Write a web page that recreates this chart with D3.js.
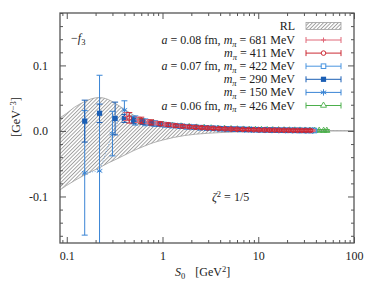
<!DOCTYPE html>
<html><head><meta charset="utf-8">
<script src="https://cdn.jsdelivr.net/npm/d3@7"></script>
<style>
body{margin:0;background:#fff}
svg{display:block}
text{font-family:"Liberation Serif","DejaVu Serif",serif;fill:#222}
</style>
</head><body>
<svg id="c" width="374" height="282"></svg>
<script>
// ---------- DATA ----------
const xTickLabels = [0.1, 1, 10, 100];
const yTickLabels = [-0.1, 0.0, 0.1];

// RL band
const rlS0    = [0.085, 0.1, 0.12, 0.15, 0.18, 0.22, 0.27, 0.33, 0.4, 0.5, 0.65, 0.8, 1.0, 1.3, 1.7, 2.2, 3, 4, 6, 10, 20, 40, 100];
const rlUpper = [0.020, 0.027, 0.036, 0.044, 0.049, 0.051, 0.048, 0.041, 0.033, 0.024, 0.016, 0.012, 0.009, 0.007, 0.0055, 0.0045, 0.0035, 0.0028, 0.002, 0.0014, 0.0009, 0.0006, 0.0003];
const rlLower = [-0.090, -0.083, -0.076, -0.068, -0.062, -0.056, -0.049, -0.043, -0.037, -0.030, -0.023, -0.018, -0.014, -0.010, -0.007, -0.005, -0.0035, -0.0025, -0.0015, -0.0008, -0.0003, -0.0001, 0.0];

// a=0.08 fm, m_pi=681 MeV
const s0_681  = [0.42, 0.55, 0.7, 0.87, 1.06, 1.28, 1.53, 1.8, 2.1, 2.45, 2.85, 3.3, 3.8, 4.4, 5.1, 5.9, 6.8, 7.8, 8.9, 10.1, 11.4, 12.9, 14.5, 16.3, 18.3, 20.5, 22.9, 25.5, 28.3, 31.3, 34.5, 37.0];
const val_681 = [0.022, 0.017, 0.014, 0.012, 0.010, 0.0085, 0.0074, 0.0065, 0.0058, 0.0052, 0.0046, 0.0041, 0.0037, 0.0033, 0.0029, 0.0026, 0.0023, 0.0021, 0.0019, 0.0017, 0.0016, 0.0014, 0.0013, 0.0012, 0.0011, 0.0010, 0.0009, 0.00085, 0.0008, 0.00072, 0.00067, 0.00063];
const err_681 = [0.006, 0.004, 0.003, 0.0026, 0.0024, 0.0022, 0.002, 0.002, 0.0019, 0.0018, 0.0018, 0.0017, 0.0017, 0.0016, 0.0016, 0.0016, 0.0015, 0.0015, 0.0015, 0.0015, 0.0015, 0.0015, 0.0015, 0.0015, 0.0015, 0.0015, 0.0015, 0.0015, 0.0015, 0.0015, 0.0015, 0.0015];

// m_pi=411 MeV
const s0_411  = [0.45, 0.6, 0.76, 0.95, 1.15, 1.38, 1.63, 1.92, 2.23, 2.58, 2.97, 3.4, 3.9, 4.5, 5.2, 6.0, 6.9, 7.9, 9.0, 10.2, 11.6, 13.1, 14.8, 16.6, 18.6, 20.8, 23.2, 25.8, 28.6, 31.6, 34.8];
const val_411 = [0.020, 0.016, 0.013, 0.011, 0.0095, 0.008, 0.0071, 0.0063, 0.0056, 0.005, 0.0045, 0.004, 0.0036, 0.0032, 0.0029, 0.0026, 0.0023, 0.0021, 0.0019, 0.0017, 0.0015, 0.0014, 0.0013, 0.0012, 0.0011, 0.001, 0.0009, 0.00085, 0.0008, 0.00072, 0.00067];
const err_411 = [0.008, 0.005, 0.004, 0.003, 0.0026, 0.0024, 0.0022, 0.002, 0.002, 0.0019, 0.0018, 0.0018, 0.0017, 0.0017, 0.0016, 0.0016, 0.0016, 0.0016, 0.0016, 0.0016, 0.0016, 0.0016, 0.0016, 0.0016, 0.0016, 0.0016, 0.0016, 0.0016, 0.0016, 0.0016, 0.0016];

// a=0.07 fm, m_pi=422 MeV
const s0_422  = [0.5, 0.66, 0.84, 1.04, 1.27, 1.53, 1.82, 2.14, 2.5, 2.9, 3.35, 3.85, 4.4, 5.05, 5.8, 6.6, 7.5, 8.5, 9.6, 10.8, 12.2, 13.7, 15.4, 17.2, 19.2, 21.4, 23.8, 26.4, 29.2, 32.2, 35.4, 38.5];
const val_422 = [0.017, 0.014, 0.012, 0.0098, 0.0085, 0.0074, 0.0065, 0.0058, 0.0051, 0.0046, 0.0041, 0.0037, 0.0033, 0.003, 0.0027, 0.0024, 0.0022, 0.002, 0.0018, 0.0016, 0.0015, 0.0013, 0.0012, 0.0011, 0.001, 0.00095, 0.00088, 0.00082, 0.00076, 0.0007, 0.00066, 0.00062];
const err_422 = [0.005, 0.004, 0.003, 0.0026, 0.0024, 0.0022, 0.002, 0.002, 0.0019, 0.0018, 0.0018, 0.0017, 0.0017, 0.0016, 0.0016, 0.0016, 0.0016, 0.0016, 0.0016, 0.0016, 0.0016, 0.0016, 0.0016, 0.0016, 0.0016, 0.0016, 0.0016, 0.0016, 0.0016, 0.0016, 0.0016, 0.0016];

// m_pi=290 MeV
const s0_290  = [0.154, 0.22, 0.32, 0.4, 0.5, 0.62, 0.76, 0.92, 1.1, 1.3, 1.55, 1.83, 2.15, 2.5, 2.9, 3.4, 4.0, 4.7, 5.5, 6.4, 7.5, 8.7, 10.1, 11.7, 13.5, 15.6, 18.0, 20.7, 23.8, 27.3, 31.2, 35.6];
const val_290 = [0.015, 0.027, 0.019, 0.019, 0.016, 0.014, 0.012, 0.0105, 0.0093, 0.0082, 0.0072, 0.0064, 0.0057, 0.005, 0.0045, 0.004, 0.0035, 0.0031, 0.0028, 0.0025, 0.0022, 0.002, 0.0018, 0.0016, 0.0014, 0.0013, 0.0011, 0.001, 0.0009, 0.0008, 0.00075, 0.0007];
const err_290 = [0.032, 0.014, 0.025, 0.006, 0.005, 0.004, 0.003, 0.0026, 0.0024, 0.0022, 0.002, 0.002, 0.0019, 0.0018, 0.0018, 0.0017, 0.0017, 0.0016, 0.0016, 0.0016, 0.0016, 0.0016, 0.0016, 0.0016, 0.0016, 0.0016, 0.0016, 0.0016, 0.0016, 0.0016, 0.0016, 0.0016];

// m_pi=150 MeV
const s0_150  = [0.154, 0.22, 0.30, 0.4, 0.52, 0.66, 0.82, 1.0, 1.2, 1.43, 1.7, 2.0, 2.35, 2.75, 3.2, 3.75, 4.4, 5.2, 6.1, 7.2, 8.5, 10.0, 11.8, 13.9, 16.4, 19.3, 22.7, 26.7, 31.4, 37.0];
const val_150 = [-0.064, -0.061, -0.004, 0.032, 0.016, 0.013, 0.011, 0.0097, 0.0086, 0.0076, 0.0067, 0.006, 0.0053, 0.0047, 0.0042, 0.0037, 0.0033, 0.0029, 0.0026, 0.0023, 0.002, 0.0018, 0.0016, 0.0014, 0.0012, 0.0011, 0.001, 0.0009, 0.0008, 0.0007];
const err_150 = [0.095, 0.146, 0.034, 0.014, 0.007, 0.005, 0.004, 0.003, 0.0028, 0.0025, 0.0023, 0.0021, 0.002, 0.0019, 0.0018, 0.0018, 0.0017, 0.0017, 0.0017, 0.0017, 0.0017, 0.0017, 0.0017, 0.0017, 0.0017, 0.0017, 0.0017, 0.0017, 0.0017, 0.0017];

// a=0.06 fm, m_pi=426 MeV
const s0_426  = [0.6, 0.8, 1.02, 1.27, 1.56, 1.9, 2.28, 2.72, 3.22, 3.8, 4.45, 5.2, 6.05, 7.0, 8.1, 9.35, 10.8, 12.4, 14.2, 16.3, 18.6, 21.2, 24.1, 27.3, 30.8, 34.6, 38.8, 43.3, 48.2, 52.0];
const val_426 = [0.015, 0.012, 0.0098, 0.0083, 0.0071, 0.0062, 0.0054, 0.0048, 0.0042, 0.0037, 0.0033, 0.0029, 0.0026, 0.0023, 0.0021, 0.0019, 0.0017, 0.0015, 0.0013, 0.0012, 0.0011, 0.001, 0.0009, 0.0008, 0.00072, 0.00066, 0.0006, 0.00055, 0.0005, 0.00046];
const err_426 = [0.004, 0.003, 0.0026, 0.0024, 0.0022, 0.002, 0.002, 0.0019, 0.0018, 0.0018, 0.0017, 0.0017, 0.0016, 0.0016, 0.0016, 0.0016, 0.0016, 0.0016, 0.0016, 0.0016, 0.0016, 0.0016, 0.0016, 0.0016, 0.0016, 0.0016, 0.0016, 0.0016, 0.0016, 0.0016];

// ---------- LAYOUT ----------
const L = 60, R = 354, T = 13, B = 243;
const svg = d3.select("#c");
const x = d3.scaleLog().domain([0.085, 100]).range([L, R]);
const y = d3.scaleLinear().domain([-0.171, 0.18]).range([B, T]);

const defs = svg.append("defs");
defs.append("clipPath").attr("id", "clip").append("rect")
  .attr("x", L).attr("y", T).attr("width", R - L).attr("height", B - T);
const pat = defs.append("pattern").attr("id", "hatch")
  .attr("patternUnits", "userSpaceOnUse").attr("width", 2.6).attr("height", 2.6)
  .attr("patternTransform", "rotate(45)");
pat.append("line").attr("x1", 0.5).attr("y1", 0).attr("x2", 0.5).attr("y2", 2.6)
  .attr("stroke", "#8c8c8c").attr("stroke-width", 0.8);

const plot = svg.append("g").attr("clip-path", "url(#clip)");

// RL band
const band = rlS0.map((s, i) => ({s, lo: rlLower[i], hi: rlUpper[i]}));
plot.append("path").datum(band)
  .attr("d", d3.area().x(d => x(d.s)).y0(d => y(d.lo)).y1(d => y(d.hi)).curve(d3.curveMonotoneX))
  .attr("fill", "url(#hatch)").attr("stroke", "none");
plot.append("path").datum(band)
  .attr("d", d3.line().x(d => x(d.s)).y(d => y(d.hi)).curve(d3.curveMonotoneX))
  .attr("fill", "none").attr("stroke", "#a0a0a0").attr("stroke-width", 0.8);
plot.append("path").datum(band)
  .attr("d", d3.line().x(d => x(d.s)).y(d => y(d.lo)).curve(d3.curveMonotoneX))
  .attr("fill", "none").attr("stroke", "#a0a0a0").attr("stroke-width", 0.8);

// series definitions
const series = [
  {key: "426", s0: s0_426, v: val_426, e: err_426, color: "#4caf4c", marker: "tri"},
  {key: "150", s0: s0_150, v: val_150, e: err_150, color: "#3a85d5", marker: "star", line: true},
  {key: "422", s0: s0_422, v: val_422, e: err_422, color: "#4a95e0", marker: "osq"},
  {key: "290", s0: s0_290, v: val_290, e: err_290, color: "#1b5fb5", marker: "fsq"},
  {key: "681", s0: s0_681, v: val_681, e: err_681, color: "#e06878", marker: "plus"},
  {key: "411", s0: s0_411, v: val_411, e: err_411, color: "#cc2a35", marker: "circ"}
];

function drawMarker(g, type, color) {
  if (type === "plus") {
    g.append("path").attr("d", "M-2.5,0H2.5M0,-2.5V2.5").attr("stroke", color).attr("stroke-width", 1).attr("fill", "none");
  } else if (type === "circ") {
    g.append("circle").attr("r", 2.3).attr("fill", "none").attr("stroke", color).attr("stroke-width", 1);
  } else if (type === "osq") {
    g.append("rect").attr("x", -2.3).attr("y", -2.3).attr("width", 4.6).attr("height", 4.6).attr("fill", "none").attr("stroke", color).attr("stroke-width", 1);
  } else if (type === "fsq") {
    g.append("rect").attr("x", -2.6).attr("y", -2.6).attr("width", 5.2).attr("height", 5.2).attr("fill", color);
  } else if (type === "star") {
    g.append("path").attr("d", d3.symbol(d3.symbolAsterisk, 28)()).attr("stroke", color).attr("stroke-width", 1).attr("fill", "none");
  } else if (type === "tri") {
    g.append("path").attr("d", d3.symbol(d3.symbolTriangle, 16)()).attr("stroke", color).attr("stroke-width", 0.9).attr("fill", "none");
  }
}

series.forEach(sr => {
  const pts = sr.s0.map((s, i) => ({s, v: sr.v[i], e: sr.e[i]}));
  const g = plot.append("g");
  if (sr.line) {
    g.append("path").datum(pts)
      .attr("d", d3.line().x(d => x(d.s)).y(d => y(d.v)))
      .attr("fill", "none").attr("stroke", sr.color).attr("stroke-width", 0.8)
      .attr("stroke-dasharray", "1,1.5").attr("opacity", 0.8);
  }
  const pg = g.selectAll("g.pt").data(pts).join("g").attr("class", "pt")
    .attr("transform", d => `translate(${x(d.s)},${y(d.v)})`);
  pg.append("line").attr("x1", 0).attr("x2", 0)
    .attr("y1", d => y(d.v - d.e) - y(d.v)).attr("y2", d => y(d.v + d.e) - y(d.v))
    .attr("stroke", sr.color).attr("stroke-width", 1);
  pg.append("line").attr("x1", -3).attr("x2", 3)
    .attr("y1", d => y(d.v - d.e) - y(d.v)).attr("y2", d => y(d.v - d.e) - y(d.v))
    .attr("stroke", sr.color).attr("stroke-width", 1);
  pg.append("line").attr("x1", -3).attr("x2", 3)
    .attr("y1", d => y(d.v + d.e) - y(d.v)).attr("y2", d => y(d.v + d.e) - y(d.v))
    .attr("stroke", sr.color).attr("stroke-width", 1);
  pg.each(function() { drawMarker(d3.select(this), sr.marker, sr.color); });
});

// ---------- AXES ----------
const axisColor = "#555";
const xMinor = x.ticks().filter(t => !xTickLabels.includes(t));
const yMinor = d3.range(-16, 19, 2).map(k => k / 100).filter(t => !yTickLabels.some(m => Math.abs(m - t) < 1e-9));

function styleAxis(g) {
  g.select(".domain").remove();
  g.selectAll("line").attr("stroke", axisColor).attr("stroke-width", 1);
  g.selectAll("text").style("font-family", '"Liberation Serif","DejaVu Serif",serif').style("font-size", "12px").attr("fill", "#222");
}
// bottom
svg.append("g").attr("transform", `translate(0,${B})`)
  .call(d3.axisBottom(x).tickValues(xTickLabels).tickSize(-6).tickPadding(8).tickFormat(d => String(d))).call(styleAxis);
svg.append("g").attr("transform", `translate(0,${B})`)
  .call(d3.axisBottom(x).tickValues(xMinor).tickSize(-3).tickFormat("")).call(styleAxis);
// top
svg.append("g").attr("transform", `translate(0,${T})`)
  .call(d3.axisTop(x).tickValues(xTickLabels).tickSize(-6).tickFormat("")).call(styleAxis);
svg.append("g").attr("transform", `translate(0,${T})`)
  .call(d3.axisTop(x).tickValues(xMinor).tickSize(-3).tickFormat("")).call(styleAxis);
// left
svg.append("g").attr("transform", `translate(${L},0)`)
  .call(d3.axisLeft(y).tickValues(yTickLabels).tickSize(-6).tickPadding(12).tickFormat(d => d.toFixed(1))).call(styleAxis);
svg.append("g").attr("transform", `translate(${L},0)`)
  .call(d3.axisLeft(y).tickValues(yMinor).tickSize(-3).tickFormat("")).call(styleAxis);
// right
svg.append("g").attr("transform", `translate(${R},0)`)
  .call(d3.axisRight(y).tickValues(yTickLabels).tickSize(-6).tickFormat("")).call(styleAxis);
svg.append("g").attr("transform", `translate(${R},0)`)
  .call(d3.axisRight(y).tickValues(yMinor).tickSize(-3).tickFormat("")).call(styleAxis);

// frame
svg.append("rect").attr("x", L).attr("y", T).attr("width", R - L).attr("height", B - T)
  .attr("fill", "none").attr("stroke", axisColor).attr("stroke-width", 1.3);

// ---------- LABELS ----------
const fs = 12;
// y label
const yl = svg.append("text").attr("transform", "translate(20,117) rotate(-90)")
  .attr("text-anchor", "middle").style("font-size", fs + "px");
yl.append("tspan").text("[GeV");
yl.append("tspan").attr("dy", -4).style("font-size", "8.5px").text("−3");
yl.append("tspan").attr("dy", 4).text("]");

// x label
const xl = svg.append("text").attr("x", 175).attr("y", 276).style("font-size", fs + "px");
xl.append("tspan").style("font-style", "italic").text("S");
xl.append("tspan").attr("dy", 2.5).style("font-size", "8.5px").text("0");
xl.append("tspan").attr("dy", -2.5).attr("dx", 10).text("[GeV");
xl.append("tspan").attr("dy", -4).style("font-size", "8.5px").text("2");
xl.append("tspan").attr("dy", 4).text("]");

// -f3
const ft = svg.append("text").attr("x", 71).attr("y", 42).style("font-size", fs + "px");
ft.append("tspan").text("−");
ft.append("tspan").style("font-style", "italic").text("f");
ft.append("tspan").attr("dy", 2.5).style("font-size", "8.5px").text("3");

// zeta
const zt = svg.append("text").attr("x", 212).attr("y", 201).style("font-size", fs + "px");
zt.append("tspan").style("font-style", "italic").text("ζ");
zt.append("tspan").attr("dy", -4).style("font-size", "8.5px").text("2");
zt.append("tspan").attr("dy", 4).text(" = 1/5");

// ---------- LEGEND ----------
const legendRows = [
  {a: "0.08", m: "681", key: "681"},
  {a: null,   m: "411", key: "411"},
  {a: "0.07", m: "422", key: "422"},
  {a: null,   m: "290", key: "290"},
  {a: null,   m: "150", key: "150"},
  {a: "0.06", m: "426", key: "426"}
];
const lx0 = 306, lx1 = 341, ltx = 295;
// RL row
svg.append("text").attr("x", ltx).attr("y", 30).attr("text-anchor", "end").style("font-size", fs + "px").text("RL");
svg.append("rect").attr("x", lx0).attr("y", 22.5).attr("width", lx1 - lx0).attr("height", 7)
  .attr("fill", "url(#hatch)").attr("stroke", "#a0a0a0").attr("stroke-width", 0.8);

legendRows.forEach((r, i) => {
  const cy = 40 + i * 13.1;
  const sr = series.find(s => s.key === r.key);
  const t = svg.append("text").attr("x", ltx).attr("y", cy + 4).attr("text-anchor", "end").style("font-size", fs + "px");
  if (r.a) {
    t.append("tspan").style("font-style", "italic").text("a");
    t.append("tspan").text(" = " + r.a + " fm, ");
  }
  t.append("tspan").style("font-style", "italic").text("m");
  t.append("tspan").attr("dy", 2.5).style("font-size", "8.5px").style("font-style", "italic").text("π");
  t.append("tspan").attr("dy", -2.5).text(" = " + r.m + " MeV");
  const g = svg.append("g");
  g.append("line").attr("x1", lx0).attr("x2", lx1).attr("y1", cy).attr("y2", cy).attr("stroke", sr.color).attr("stroke-width", 1);
  g.append("line").attr("x1", lx0).attr("x2", lx0).attr("y1", cy - 3).attr("y2", cy + 3).attr("stroke", sr.color).attr("stroke-width", 1);
  g.append("line").attr("x1", lx1).attr("x2", lx1).attr("y1", cy - 3).attr("y2", cy + 3).attr("stroke", sr.color).attr("stroke-width", 1);
  const mg = g.append("g").attr("transform", `translate(${(lx0 + lx1) / 2},${cy})`);
  drawMarker(mg, sr.marker, sr.color);
  if (sr.marker !== "fsq") mg.insert("rect", ":first-child").attr("x", -2).attr("y", -2).attr("width", 4).attr("height", 4).attr("fill", "#fff").attr("opacity", sr.marker === "plus" || sr.marker === "star" ? 0 : 1);
});
</script>
</body></html>
